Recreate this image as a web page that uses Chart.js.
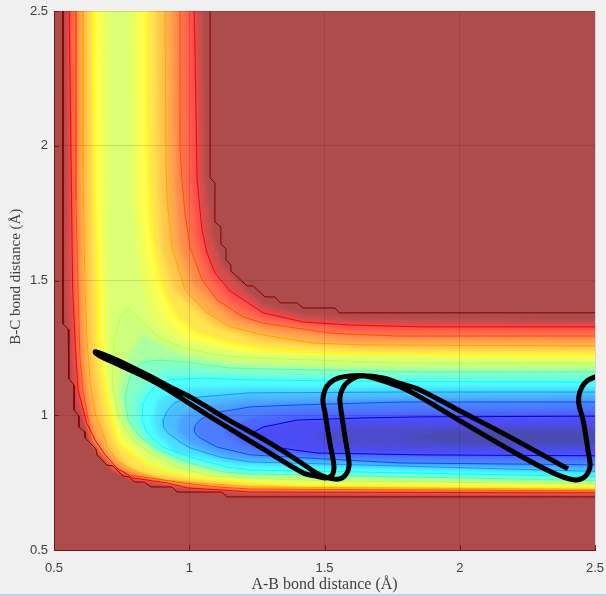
<!DOCTYPE html>
<html>
<head>
<meta charset="utf-8">
<script src="https://cdn.jsdelivr.net/npm/chart.js@4/dist/chart.umd.min.js"></script>
<style>
  html, body { margin: 0; padding: 0; background: #f0f0f0; overflow: hidden; }
  canvas { display: block; }
  #strip { height: 2px; background: #b9d3ea; }
</style>
</head>
<body>
<canvas id="surface" width="606" height="594"></canvas>
<div id="strip"></div>
<script>
const tickValues = [0.5, 1, 1.5, 2, 2.5];

// contour outlines, [AB, BC] in angstrom, outermost first
const level0 = [[.533,2.6],[.533,1.339],[.552,1.32],[.555,1.135],[.574,1.112],[.574,1.02],[.592,.997],[.592,.956],[.615,.938],[.615,.916],[.655,.875],[.659,.853],[.696,.815],[.718,.812],[.755,.775],[.777,.771],[.799,.752],[.833,.752],[.859,.734],[.936,.734],[.955,.715],[1.121,.715],[1.14,.697],[2.6,.697],[2.6,1.38],[1.554,1.38],[1.539,1.398],[1.421,1.398],[1.398,1.417],[1.336,1.417],[1.317,1.439],[1.28,1.439],[1.236,1.48],[1.214,1.48],[1.154,1.535],[1.154,1.558],[1.136,1.576],[1.136,1.617],[1.117,1.636],[1.117,1.699],[1.095,1.717],[1.095,1.862],[1.077,1.881],[1.077,2.6]];
const levelA = [[.545,2.6],[.544,1.5],[.559,1.205],[.578,1.057],[.611,.964],[.652,.89],[.718,.797],[.799,.752],[.918,.734],[1.114,.712],[2.6,.704],[2.6,1.346],[1.594,1.357],[1.421,1.372],[1.273,1.409],[1.188,1.483],[1.121,1.558],[1.084,1.669],[1.058,1.873],[1.043,2.6]];
const level1 = [[.555,2.6],[.561,2.107],[.569,1.465],[.581,1.216],[.589,1.094],[.621,.971],[.652,.908],[.689,.853],[.733,.804],[.792,.767],[.918,.749],[.995,.73],[1.114,.723],[1.225,.715],[2.6,.712],[2.6,1.328],[1.853,1.328],[1.594,1.335],[1.421,1.346],[1.273,1.38],[1.151,1.461],[1.095,1.528],[1.066,1.602],[1.047,1.688],[1.029,1.873],[1.021,2.374],[1.016,2.6]];
const mid12 = [[.568,2.6],[.575,1.465],[.588,1.216],[.598,1.094],[.625,.971],[.645,.908],[.68,.856],[.725,.806],[.786,.772],[.887,.758],[.985,.74],[1.225,.72],[2.6,.715],[2.6,1.311],[1.594,1.315],[1.273,1.361],[1.151,1.425],[1.075,1.515],[1.025,1.65],[1.003,1.873],[.991,2.6]];
const level2 = [[.581,2.6],[.581,1.799],[.589,1.465],[.596,1.216],[.607,1.094],[.629,.971],[.637,.908],[.67,.86],[.718,.808],[.781,.778],[.855,.767],[.977,.749],[1.103,.734],[1.225,.726],[2.6,.719],[2.6,1.294],[1.768,1.294],[1.52,1.305],[1.273,1.342],[1.199,1.365],[1.103,1.428],[1.047,1.502],[1.003,1.624],[.984,1.751],[.973,1.873],[.966,1.984],[.966,2.6]];
const mid23 = [[.594,2.6],[.6,1.465],[.609,1.216],[.62,1.094],[.641,.971],[.663,.908],[.707,.845],[.759,.803],[.83,.778],[.94,.749],[1.225,.73],[2.6,.722],[2.6,1.276],[1.594,1.28],[1.273,1.32],[1.151,1.36],[1.015,1.485],[.965,1.624],[.945,1.873],[.938,2.6]];
const level3 = [[.607,2.6],[.607,1.91],[.615,1.465],[.622,1.279],[.633,1.131],[.652,1.008],[.689,.908],[.696,.882],[.737,.827],[.807,.789],[.903,.76],[1.029,.749],[1.225,.734],[2.6,.724],[2.6,1.257],[1.642,1.261],[1.457,1.268],[1.273,1.298],[1.151,1.328],[1.066,1.38],[.984,1.465],[.936,1.624],[.918,1.799],[.914,1.947],[.91,2.6]];
const mid34 = [[.628,2.6],[.639,1.465],[.644,1.279],[.657,1.157],[.68,1.008],[.713,.9],[.777,.81],[.86,.778],[1,.76],[1.225,.743],[2.6,.729],[2.6,1.24],[1.642,1.244],[1.273,1.272],[1.09,1.33],[.943,1.465],[.897,1.624],[.883,1.873],[.877,2.6]];
const level4 = [[.648,2.6],[.648,2.17],[.652,1.799],[.663,1.465],[.666,1.279],[.681,1.157],[.707,1.008],[.737,.897],[.818,.834],[.903,.797],[1.003,.771],[1.125,.76],[1.225,.752],[1.41,.737],[2.6,.734],[2.6,1.224],[1.642,1.227],[1.398,1.235],[1.273,1.246],[1.151,1.268],[1.029,1.305],[.955,1.365],[.903,1.465],[.881,1.558],[.859,1.688],[.848,1.91],[.844,2.17],[.844,2.6]];
const mid45 = [[.674,2.6],[.678,1.6],[.69,1.279],[.7,1.157],[.726,1.008],[.762,.904],[.84,.815],[.93,.785],[1.1,.77],[1.225,.76],[2.6,.74],[2.6,1.208],[1.4,1.22],[1.15,1.24],[1,1.28],[.925,1.34],[.88,1.42],[.84,1.55],[.815,1.8],[.81,2.6]];
const mid46 = [[.7,2.6],[.7,1.6],[.7,1.194],[.706,1.094],[.73,.985],[.775,.905],[.85,.845],[.94,.795],[1.225,.762],[2.6,.742],[2.6,1.2],[1.225,1.225],[1,1.262],[.91,1.3],[.86,1.36],[.82,1.5],[.785,1.8],[.78,2.6]];
const level5 = [[.774,1.398],[.744,1.361],[.726,1.29],[.714,1.194],[.718,1.094],[.744,.982],[.792,.908],[.855,.86],[.955,.808],[1.077,.775],[1.225,.767],[1.52,.756],[2.6,.745],[2.6,1.194],[1.779,1.194],[1.225,1.213],[1.103,1.224],[.977,1.25],[.892,1.287],[.829,1.342],[.799,1.376],[.774,1.398]];
const mid56 = [[.83,1.3],[.775,1.22],[.745,1.12],[.74,1.07],[.759,.982],[.805,.91],[.875,.865],[.98,.815],[1.175,.775],[2.6,.75],[2.6,1.178],[1.5,1.18],[1.15,1.195],[.98,1.225],[.9,1.26]];
const level6 = [[.892,1.205],[.829,1.198],[.8,1.175],[.781,1.142],[.762,1.068],[.774,.982],[.818,.919],[.892,.871],[1.003,.823],[1.125,.79],[1.225,.782],[2.6,.756],[2.6,1.161],[1.779,1.161],[1.151,1.175],[.977,1.198],[.892,1.205]];
const mid67 = [[.91,1.168],[.84,1.12],[.8,1.06],[.793,.982],[.83,.925],[.87,.875],[.96,.832],[1.18,.79],[2.6,.763],[2.6,1.142],[1.2,1.153],[1,1.165]];
const level7 = [[.929,1.131],[.893,1.12],[.866,1.101],[.829,1.046],[.825,.982],[.844,.934],[.903,.882],[1.014,.841],[1.14,.808],[1.225,.797],[2.6,.771],[2.6,1.123],[1.779,1.125],[1.225,1.131],[1.04,1.138],[.929,1.131]];
const mid78 = [[.95,1.093],[.885,1.06],[.865,.982],[.88,.93],[.95,.86],[1.17,.815],[2.6,.78],[2.6,1.105],[1.2,1.105],[1,1.1]];
const level8 = [[.977,1.057],[.945,1.045],[.92,1.018],[.903,.982],[.905,.955],[.922,.934],[.96,.905],[1.003,.879],[1.114,.845],[1.225,.827],[2.6,.789],[2.6,1.086],[1.779,1.086],[1.225,1.083],[1.04,1.068],[.977,1.057]];
const mid89 = [[1.01,1.02],[.96,.985],[.96,.94],[1.02,.885],[1.17,.838],[2.6,.802],[2.6,1.068],[1.225,1.058],[1.08,1.04]];
const level9 = [[1.04,.982],[1.024,.965],[1.018,.945],[1.024,.93],[1.04,.916],[1.103,.882],[1.225,.853],[1.779,.823],[2.6,.815],[2.6,1.049],[1.779,1.049],[1.398,1.038],[1.225,1.031],[1.114,1.012],[1.07,1],[1.04,.982]];
const mid9x = [[1.125,.94],[1.2,.89],[1.3,.86],[2.6,.832],[2.6,1.023],[1.4,1.01],[1.225,.99]];
const level10 = [[1.232,.934],[1.26,.91],[1.31,.882],[1.472,.86],[1.853,.853],[2.6,.849],[2.6,.997],[1.853,.994],[1.642,.99],[1.398,.982],[1.273,.956],[1.232,.934]];
const inner1 = [[1.446,.919],[1.594,.882],[2.6,.878],[2.6,.96],[1.594,.96]];
const inner2 = [[1.779,.919],[1.964,.897],[2.6,.897],[2.6,.94],[1.964,.942]];

// trajectory, AB then BC distance
const trajAB = [2.4,2.186,2.001,1.853,1.78,1.716,1.631,1.591,1.568,1.557,1.561,1.576,1.587,1.591,1.583,1.565,1.539,1.502,1.465,1.398,1.273,1.151,1.003,.929,.844,.733,.67,.652,.67,.733,.844,.929,1.003,1.151,1.273,1.421,1.465,1.502,1.528,1.535,1.532,1.52,1.502,1.494,1.502,1.52,1.55,1.594,1.65,1.705,1.78,1.853,2.001,2.186,2.308,2.371,2.426,2.456,2.474,2.482,2.474,2.456,2.441,2.441,2.452,2.47,2.5,2.519];
const trajBC = [.801,.919,1.016,1.094,1.118,1.138,1.146,1.127,1.101,1.064,1.02,.919,.853,.815,.786,.767,.763,.771,.789,.834,.912,.979,1.068,1.105,1.15,1.205,1.231,1.235,1.22,1.19,1.138,1.09,1.042,.949,.875,.786,.775,.767,.778,.804,.834,.897,1.008,1.057,1.094,1.12,1.138,1.146,1.146,1.131,1.105,1.068,.979,.871,.804,.775,.76,.767,.786,.815,.871,.982,1.038,1.075,1.105,1.127,1.142,1.15];
const trajectory = trajAB.map((x, i) => [x, trajBC[i]]);

const plateau = 'rgb(174,76,76)';

// fill colour and outline colour for every band, painted in this order
const bands = [
  [level0, plateau, '#800000'],
  [levelA, 'rgb(215,76,76)', null],
  [level1, 'rgb(255,82,76)', '#ff0000'],
  [mid12, 'rgb(255,110,76)', null],
  [level2, 'rgb(255,140,76)', '#ff5000'],
  [mid23, 'rgb(255,170,76)', null],
  [level3, 'rgb(255,200,76)', '#ffa500'],
  [mid34, 'rgb(255,228,76)', null],
  [level4, 'rgb(255,255,76)', '#ffff00'],
  [mid45, 'rgb(235,255,95)', null],
  [mid46, 'rgb(218,255,118)', null],
  [level5, 'rgb(205,255,125)', '#bfff40'],
  [mid56, 'rgb(170,255,160)', null],
  [level6, 'rgb(132,255,199)', '#50ffaf'],
  [mid67, 'rgb(104,255,227)', null],
  [level7, 'rgb(76,255,255)', '#00ffff'],
  [mid78, 'rgb(76,222,255)', null],
  [level8, 'rgb(76,188,255)', '#00a0ff'],
  [mid89, 'rgb(76,160,255)', null],
  [level9, 'rgb(76,125,255)', '#0050ff'],
  [mid9x, 'rgb(76,100,255)', null],
  [level10, 'rgb(76,76,245)', '#0000e0'],
  [inner1, 'rgb(76,76,205)', null],
  [inner2, 'rgb(74,74,175)', null]
];

const datasets = [{
  data: trajectory,
  showLine: true,
  borderColor: '#000',
  borderWidth: 5,
  tension: 0.3,
  pointRadius: 0
}];
bands.forEach(b => {
  datasets.push({
    data: b[0],
    showLine: !!b[2],
    borderColor: b[2] || 'transparent',
    backgroundColor: b[1],
    borderWidth: 1,
    pointRadius: 0,
    isBand: true
  });
});

// paints the soft colour bands under the contour lines
const surfacePlugin = {
  id: 'surface',
  beforeDatasetsDraw(chart) {
    const ctx = chart.ctx;
    const area = chart.chartArea;
    ctx.save();
    ctx.beginPath();
    ctx.rect(area.left, area.top, area.right - area.left, area.bottom - area.top);
    ctx.clip();
    ctx.fillStyle = plateau;
    ctx.fillRect(area.left, area.top, area.right - area.left, area.bottom - area.top);
    ctx.filter = 'blur(2px)';
    chart.data.datasets.forEach((ds, i) => {
      if (!ds.isBand) return;
      const pts = chart.getDatasetMeta(i).data;
      ctx.beginPath();
      pts.forEach((p, j) => j ? ctx.lineTo(p.x, p.y) : ctx.moveTo(p.x, p.y));
      ctx.closePath();
      ctx.fillStyle = ds.backgroundColor;
      ctx.fill();
    });
    ctx.restore();
  },
  afterDraw(chart) {
    // short inward ticks like the original axes
    const ctx = chart.ctx;
    const {x, y} = chart.scales;
    const area = chart.chartArea;
    ctx.save();
    ctx.strokeStyle = '#6a1c1c';
    ctx.lineWidth = 1;
    tickValues.forEach(v => {
      const px = Math.round(x.getPixelForValue(v)) + 0.5;
      const py = Math.round(y.getPixelForValue(v)) + 0.5;
      ctx.beginPath();
      ctx.moveTo(px, area.bottom);
      ctx.lineTo(px, area.bottom - 5);
      ctx.moveTo(area.left, py);
      ctx.lineTo(area.left + 5, py);
      ctx.stroke();
    });
    ctx.restore();
  }
};

const tickFont = {family: '"Liberation Sans"', size: 13};

function pinAxis(axis, size) {
  if (axis.isHorizontal()) axis.height = size; else axis.width = size;
  axis.paddingLeft = axis.paddingRight = axis.paddingTop = axis.paddingBottom = 0;
}

new Chart(document.getElementById('surface'), {
  type: 'scatter',
  data: {datasets: datasets},
  plugins: [surfacePlugin],
  options: {
    responsive: false,
    animation: false,
    layout: {padding: {top: 11, right: 11, bottom: 0, left: 0}},
    plugins: {legend: {display: false}, tooltip: {enabled: false}},
    scales: {
      x: {
        type: 'linear',
        min: 0.5,
        max: 2.5,
        afterBuildTicks(axis) { axis.ticks = tickValues.map(v => ({value: v})); },
        afterFit(axis) { pinAxis(axis, 44); },
        grid: {z: 1, color: 'rgba(40,0,0,0.13)', drawTicks: false},
        border: {display: true, color: '#6a1c1c', z: 2},
        ticks: {font: tickFont, color: '#404040', padding: 11, maxRotation: 0, callback: v => String(v)},
        title: {display: true, text: 'A-B bond distance (Å)', font: {family: '"Liberation Serif"', size: 16}, color: '#404040', padding: {top: 0, bottom: 0}}
      },
      y: {
        type: 'linear',
        min: 0.5,
        max: 2.5,
        afterBuildTicks(axis) { axis.ticks = tickValues.map(v => ({value: v})); },
        afterFit(axis) { pinAxis(axis, 54); },
        grid: {z: 1, color: 'rgba(40,0,0,0.13)', drawTicks: false},
        border: {display: true, color: '#6a1c1c', z: 2},
        ticks: {font: tickFont, color: '#404040', padding: 6, callback: v => String(v)},
        title: {display: true, text: '  B-C bond distance (Å)', font: {family: '"Liberation Serif"', size: 15}, color: '#404040', padding: {top: 7, bottom: 0}}
      }
    }
  }
});
</script>
</body>
</html>
